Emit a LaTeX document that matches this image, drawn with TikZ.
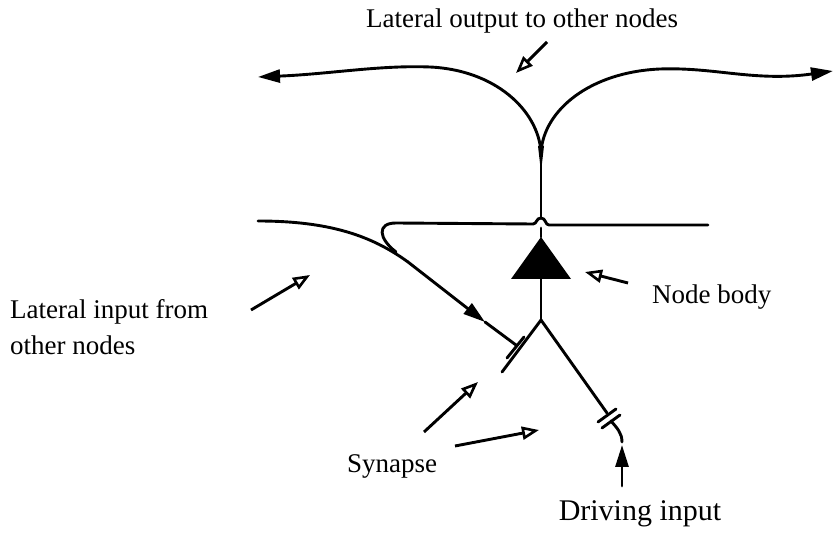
\documentclass[tikz,border=0pt]{standalone}
\usepackage{fontspec}
\setmainfont{Liberation Serif}
\usetikzlibrary{arrows.meta}
\tikzset{
  wire/.style={line width=2.9pt, line cap=round, line join=round},
  pointer/.style={line width=2.9pt, -{Triangle[open,length=17pt,width=13pt,line width=2.6pt]}},
  solidtip/.style={-{Triangle[length=22pt,width=13pt]}},
  lbl/.style={font=\fontsize{27}{30}\selectfont, inner sep=0pt, align=left}
}
\begin{document}
\begin{tikzpicture}[x=1pt,y=-1pt]
\useasboundingbox (0,0) rectangle (833,534);
% labels
\node[lbl] (tout) at (522,21) {Lateral output to other nodes};
\node[lbl, anchor=west] (tbody) at (652,297) {Node body};
\node[lbl, anchor=west] (tin1) at (10,312) {Lateral input from};
\node[lbl, anchor=west] (tin2) at (10,345) {other nodes};
\node[lbl] (tsyn) at (392,466) {Synapse};
\node[lbl, font=\fontsize{30}{33}\selectfont] (tdrv) at (640,514) {Driving input};
% key coordinates
\coordinate (cusp) at (541,152);
\coordinate (apex) at (541,237);
\coordinate (junc) at (541,320);
\coordinate (lsyn) at (502,372);
\coordinate (rsyn) at (607,413);
% node body
\fill (apex) -- (571,279) -- (511,279) -- cycle;
\draw[wire] (541,279) -- (junc);
\draw[wire] (apex) -- (541,228);
% stem and cusp
\draw[wire] (cusp) -- (541,218);
\fill (538,146) -- (544,146) -- (541,172) -- cycle;
% lateral outputs
\coordinate (lout) at (258,77);
\coordinate (rout) at (833,71);
\draw[wire, solidtip] (cusp) .. controls (538,110) and (495,70) .. (430,67)
   .. controls (380,65) and (330,74) .. (lout);
\draw[wire, solidtip] (cusp) .. controls (544,110) and (590,72) .. (660,69)
   .. controls (715,67) and (755,82) .. (rout);
% horizontal line with hump
\coordinate (hr) at (708,225);
\draw[wire] (hr) -- (549,225) .. controls (545,225) and (546,218) .. (541,218)
   .. controls (536,218) and (537,224) .. (533,224) -- (396,223)
   .. controls (377,223) and (378,238) .. (396,252);
% lateral input curve
\coordinate (lin) at (258,221);
\coordinate (lmid) at (408,262);
\coordinate (larr) at (485,322);
\coordinate (lend) at (516,345);
\draw[wire] (lin) .. controls (330,221) and (372,236) .. (lmid);
\draw[wire, solidtip] (lmid) -- (larr);
\draw[wire] (larr) -- (lend);
% dendrites
\draw[wire] (junc) -- (lsyn);
\draw[wire] (524,337) -- (507,358);
\draw[wire] (junc) -- (rsyn);
% right synapse bars
\draw[wire] (598,422) -- (616,409);
\draw[wire] (602,428) -- (620,415);
% driving input
\coordinate (dstart) at (611,421);
\coordinate (dend) at (622,442);
\draw[wire] (dstart) .. controls (617,428) and (622,433) .. (dend);
\coordinate (dbot) at (622,486);
\coordinate (dtip) at (622,445);
\draw[wire, solidtip] (dbot) -- (dtip);
% pointers
\coordinate (p1a) at (547,42); \coordinate (p1b) at (516,73);
\draw[pointer] (p1a) -- (p1b);
\coordinate (p2a) at (628,283); \coordinate (p2b) at (585,272);
\draw[pointer] (p2a) -- (p2b);
\coordinate (p3a) at (251,310); \coordinate (p3b) at (310,275);
\draw[pointer] (p3a) -- (p3b);
\coordinate (p4a) at (424,432); \coordinate (p4b) at (478,382);
\draw[pointer] (p4a) -- (p4b);
\coordinate (p5a) at (455,446); \coordinate (p5b) at (539,430);
\draw[pointer] (p5a) -- (p5b);
\end{tikzpicture}
\end{document}
